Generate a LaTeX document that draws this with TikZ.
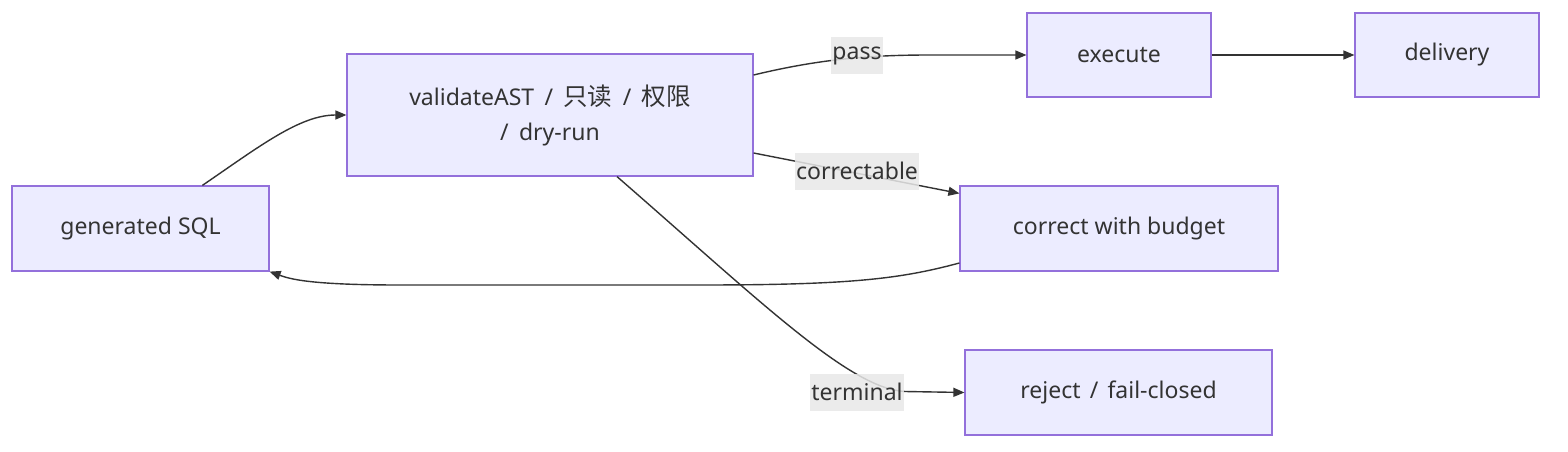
\documentclass[tikz,border=0pt]{standalone}
\usepackage{fontspec}
\setmainfont{Noto Sans}
\newfontfamily\cjk{Noto Sans CJK SC}
\usetikzlibrary{arrows.meta,calc}
\definecolor{nodefill}{HTML}{ECECFF}
\definecolor{nodeline}{HTML}{9370DB}
\definecolor{edgecol}{HTML}{333333}
\definecolor{lblfill}{HTML}{E8E8E8}
\newcommand{\cj}[1]{{\cjk\fontsize{24.5}{35}\selectfont #1}}
\begin{document}
\begin{tikzpicture}[x=1pt,y=-1pt,
  box/.style={draw=nodeline,fill=nodefill,line width=1.2pt,rectangle,inner sep=0pt,
    text=edgecol,font=\fontsize{23}{35}\selectfont,align=center},
  conn/.style={draw=edgecol,line width=1.4pt,-{Triangle[length=11pt,width=9pt]}},
  lbl/.style={fill=lblfill,fill opacity=0.85,text opacity=1,text=edgecol,inner xsep=1pt,
    inner ysep=0pt,minimum height=37pt,font=\fontsize{23}{27}\selectfont}]
\useasboundingbox (0,0) rectangle (1568,452);
\fill[white] (0,0) rectangle (1568,452);
\node[box,minimum width=257pt,minimum height=85pt] (sql) at (140.5,228.5) {generated SQL};
\node[box,minimum width=406pt,minimum height=122pt] (val) at (550,115) {\spaceskip=0.45em validateAST / \cj{只读} / \cj{权限}\\\spaceskip=0.45em / dry-run};
\node[box,minimum width=184pt,minimum height=84pt] (exe) at (1119,55) {execute};
\node[box,minimum width=184pt,minimum height=84pt] (del) at (1447,55) {delivery};
\node[box,minimum width=318pt,minimum height=85pt] (cor) at (1119,228.5) {correct with budget};
\node[box,minimum width=307pt,minimum height=85pt] (rej) at (1118.5,392.5) {\spaceskip=0.4em reject / fail-closed};
% edges
\draw[conn] ($(sql.north west)+(191,0)$) .. controls (260,146) and (300,115) .. (val.west);
\draw[conn] ($(val.east)+(0,-40)$) .. controls (820,59) and (870,55) .. (930,55) -- (exe.west);
\draw[conn] (exe.east) -- (del.west);
\draw[conn] ($(val.east)+(0,38)$) -- ($(cor.north west)+(0,8)$);
\draw[conn] ($(cor.west)+(0,34.5)$) .. controls (900,279) and (850,285) .. (700,285) -- (400,285) .. controls (310,285) and (290,279) .. (sql.south east);
\draw[conn] ($(val.south)+(67,0)$) .. controls (760,301) and (850,389) .. (905,391.5) -- (rej.west);
% labels
\node[lbl] (lpass) at (857,55.5) {pass};
\node[lbl] (lcor) at (857,171) {correctable};
\node[lbl] (lterm) at (857,392) {terminal};
\end{tikzpicture}
\end{document}
